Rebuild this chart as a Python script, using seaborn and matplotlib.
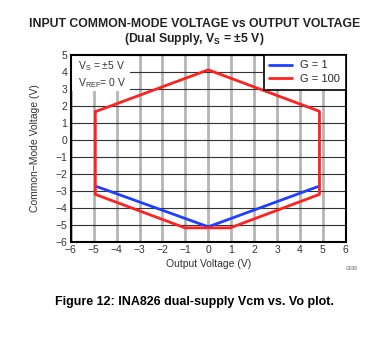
import matplotlib
matplotlib.use("Agg")
import matplotlib.pyplot as plt
from matplotlib.patches import Rectangle
import seaborn as sns
import pandas as pd

# Data
g100_x = [-4.93, 0.0, 4.85, 4.85, 0.96, -1.02, -4.93, -4.93]
g100_y = [1.66, 4.12, 1.68, -3.21, -5.18, -5.18, -3.21, 1.66]
g1_x = [-4.93, 0.0, 4.85]
g1_y = [-2.72, -5.12, -2.72]
x_ticks = list(range(-6, 7))
y_ticks = list(range(-6, 6))

sns.set_theme(style="white")
plt.rcParams['font.family'] = ['Liberation Sans', 'DejaVu Sans']
plt.rcParams['mathtext.default'] = 'regular'

df = pd.concat([
    pd.DataFrame({"x": g1_x, "y": g1_y, "G": "G = 1", "o": range(len(g1_x))}),
    pd.DataFrame({"x": g100_x, "y": g100_y, "G": "G = 100", "o": range(len(g100_x))}),
])

fig = plt.figure(figsize=(3.89, 3.41), dpi=100)
ax = fig.add_axes([0.182, 0.291, 0.707, 0.548])

sns.lineplot(data=df, x="x", y="y", hue="G", sort=False, estimator=None, units="G",
             palette={"G = 1": "#1f3fff", "G = 100": "#ff2020"}, linewidth=2,
             hue_order=["G = 1", "G = 100"], ax=ax, legend=True, zorder=3)

ax.set_xlim(-6, 6)
ax.set_ylim(-6, 5)
ax.set_xticks(x_ticks)
ax.set_yticks(y_ticks)
ax.set_xticklabels([str(t).replace('-', '\u2212') for t in x_ticks])
ax.set_yticklabels([str(t).replace('-', '\u2212') for t in y_ticks])
ax.tick_params(length=0, labelsize=7.5, pad=2.5, colors='#333333')
ax.xaxis.grid(True, color='#b5b5b5', linewidth=2)
ax.yaxis.grid(True, color='#333333', linewidth=0.8)
ax.set_axisbelow(True)
for s in ax.spines.values():
    s.set_color('black')
    s.set_linewidth(1.5)

ax.add_patch(Rectangle((-6, 2.9), 2.6, 2.1, facecolor='white', edgecolor='none', zorder=1))

ax.set_xlabel("Output Voltage (V)", fontsize=7.5, color='#333333', labelpad=3)
ax.set_ylabel("Common\u2212Mode Voltage (V)", fontsize=7.5, color='#333333', labelpad=11)

leg = ax.legend(loc='upper right', fontsize=8, frameon=True, fancybox=False,
                edgecolor='black', borderaxespad=0, handlelength=2.0, handletextpad=0.8,
                labelspacing=0.35, borderpad=0.5, title=None)
leg.get_frame().set_linewidth(1.2)
leg.get_frame().set_alpha(1)

ax.text(0.027, 0.975, "V$_S$ = \u00b15 V\nV$_{REF}$= 0 V", transform=ax.transAxes,
        ha='left', va='top', fontsize=7.5, color='#333333', zorder=5, linespacing=1.25)

fig.text(0.5, 0.921, "INPUT COMMON-MODE VOLTAGE vs OUTPUT VOLTAGE", ha='center', va='baseline',
         fontsize=8.8, fontweight='bold', color='#222222')
fig.text(0.5, 0.878, "(Dual Supply, V$_S$ = \u00b15 V)", ha='center', va='baseline',
         fontsize=8.8, fontweight='bold', color='#222222')
fig.text(0.888, 0.214, "G038", fontsize=3.5, color='#555555', ha='left', va='center')
fig.text(0.141, 0.106, "Figure 12: INA826 dual-supply Vcm vs. Vo plot.", fontsize=9,
         fontweight='bold', color='black', ha='left', va='baseline')

fig.savefig("out.png", dpi=100)
